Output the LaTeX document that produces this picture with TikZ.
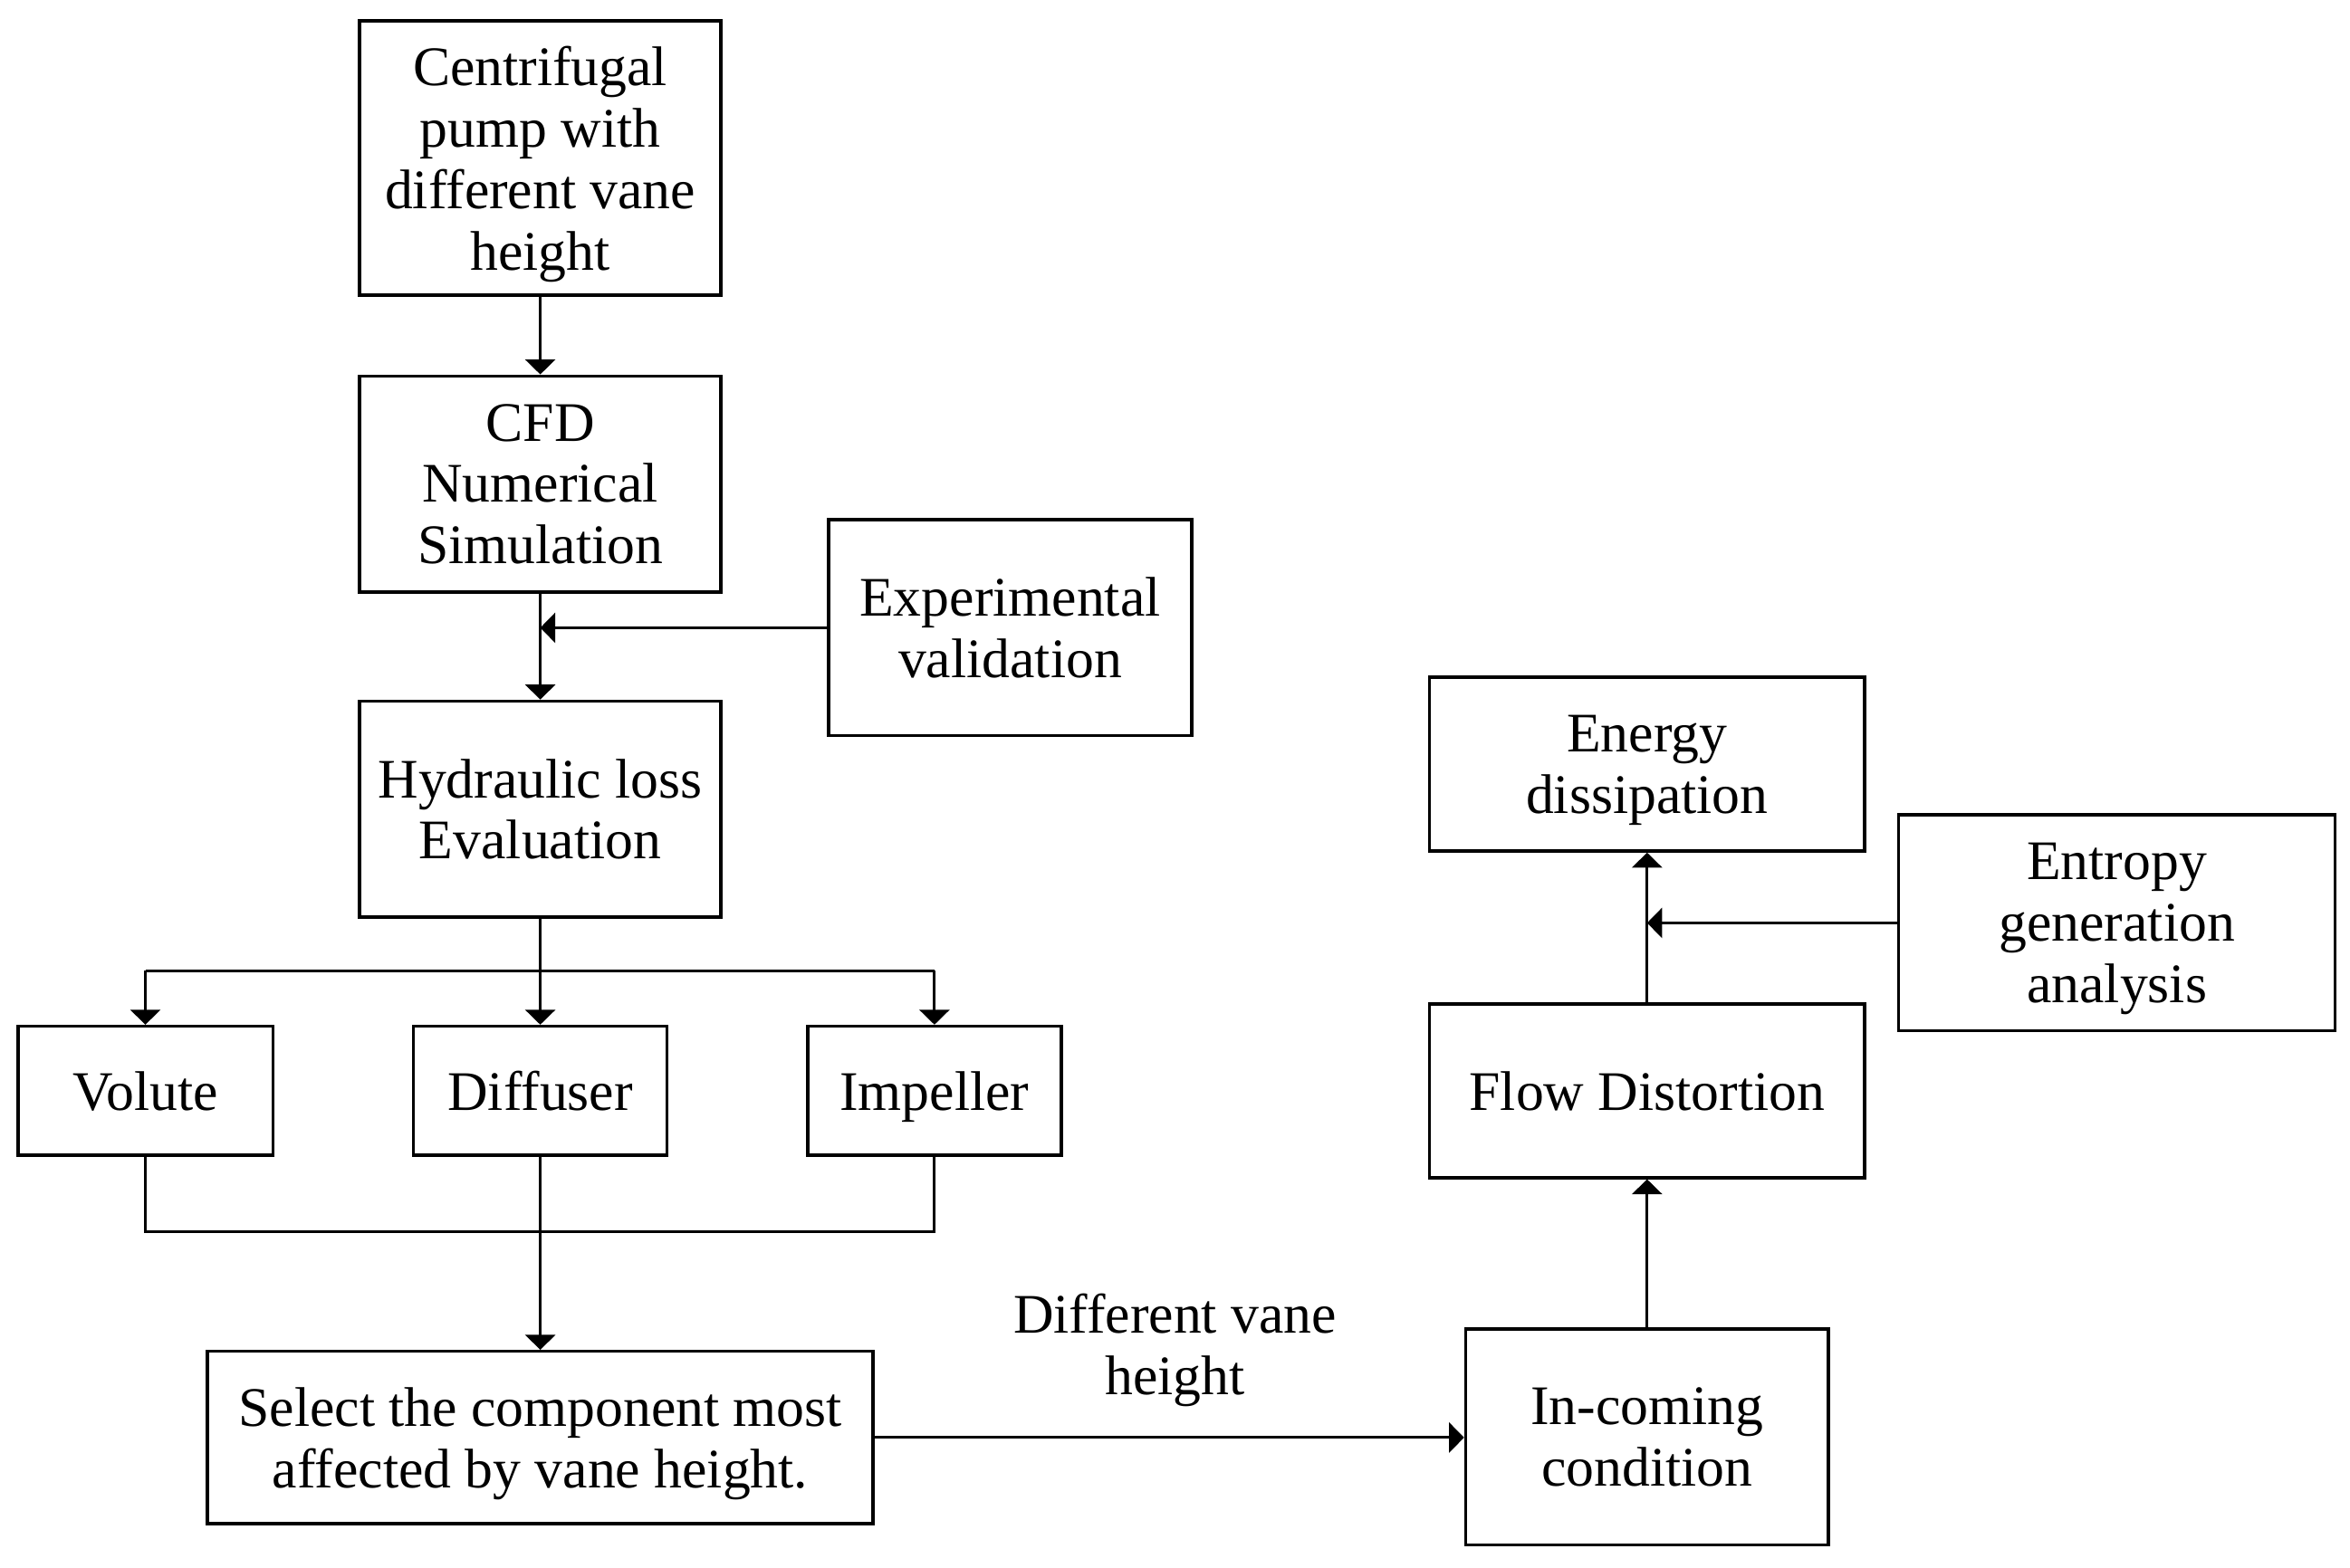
\documentclass[tikz,border=0pt]{standalone}
\usepackage{fontspec}
\setmainfont{Liberation Serif}
\usetikzlibrary{arrows.meta}
\begin{document}
\begin{tikzpicture}[x=0.01cm,y=-0.01cm,
  box/.style={draw, line width=0.6pt, inner sep=0pt, align=center, text depth=0pt,
    font=\fontsize{10.6}{11.65}\selectfont},
  conn/.style={line width=0.5pt, -{Triangle[width=0.2cm,length=0.1cm]}},
  plain/.style={line width=0.5pt},
  lbl/.style={align=center, inner sep=0pt, text depth=0pt, font=\fontsize{10.6}{11.65}\selectfont}]
\useasboundingbox (0,0) rectangle (1568,1046);
\node[box, minimum width=2.41cm, minimum height=1.83cm] (cent) at (360.5,105.5) {Centrifugal\\pump with\\different vane\\height};
\node[box, minimum width=2.41cm, minimum height=1.44cm] (cfd) at (360.5,323) {CFD\\Numerical\\Simulation};
\node[box, minimum width=2.42cm, minimum height=1.44cm] (exp) at (674,419) {Experimental\\validation};
\node[box, minimum width=2.41cm, minimum height=1.44cm] (hyd) at (360.5,540) {Hydraulic loss\\Evaluation};
\node[box, minimum width=1.70cm, minimum height=0.86cm] (vol) at (97,728) {Volute};
\node[box, minimum width=1.69cm, minimum height=0.86cm] (dif) at (360.5,728) {Diffuser};
\node[box, minimum width=1.69cm, minimum height=0.86cm] (imp) at (623.5,728) {Impeller};
\node[box, minimum width=4.44cm, minimum height=1.15cm] (sel) at (360.5,959.5) {Select the component most\\affected by vane height.};
\node[box, minimum width=2.42cm, minimum height=1.44cm] (inc) at (1099,959) {In-coming\\condition};
\node[box, minimum width=2.90cm, minimum height=1.16cm] (flow) at (1099,728) {Flow Distortion};
\node[box, minimum width=2.90cm, minimum height=1.16cm] (en) at (1099,510) {Energy\\dissipation};
\node[box, minimum width=2.91cm, minimum height=1.44cm] (ent) at (1412.5,616) {Entropy\\generation\\analysis};
\node[lbl] (dv) at (784,897) {Different vane\\height};
\coordinate (br) at (360.5,648);
\coordinate (mg) at (360.5,822);
\draw[conn] (cent.south) -- (cfd.north);
\draw[conn] (cfd.south) -- (hyd.north);
\draw[conn] (exp.west) -- (exp.west -| cfd.south);
\draw[plain] (hyd.south) -- (br);
\draw[plain] (vol.north |- br) -- (imp.north |- br);
\draw[conn] (br) -- (dif.north);
\draw[conn] (vol.north |- br) -- (vol.north);
\draw[conn] (imp.north |- br) -- (imp.north);
\draw[plain] (vol.south) -- (vol.south |- mg) -- (imp.south |- mg) -- (imp.south);
\draw[conn] (dif.south) -- (sel.north);
\draw[conn] (sel.east) -- (sel.east -| inc.west);
\draw[conn] (inc.north) -- (flow.south);
\draw[conn] (flow.north) -- (en.south);
\draw[conn] (ent.west) -- (ent.west -| flow.north);
\end{tikzpicture}
\end{document}
